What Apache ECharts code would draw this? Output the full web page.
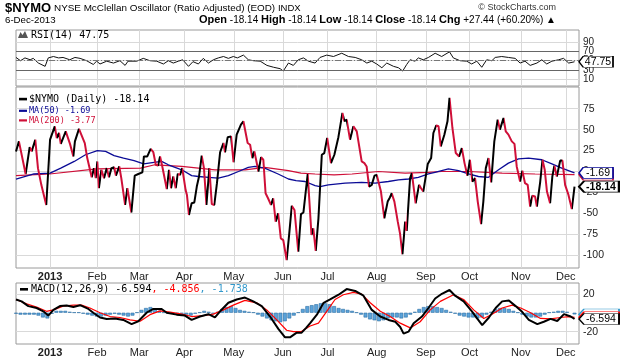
<!DOCTYPE html>
<html><head><meta charset="utf-8">
<script src="https://cdn.jsdelivr.net/npm/echarts@6.0.0/dist/echarts.min.js"></script>
<style>html,body{margin:0;padding:0;background:#fff}#c{width:620px;height:360px}</style>
</head><body><div id="c"></div>
<script>
// ---- tick labels ----
const monthTicks = [15.2, 36.2, 55, 75.1, 97.2, 119.1, 139, 161, 182.9, 202.4, 225.3, 245.4];
const monthLabels = ['2013','Feb','Mar','Apr','May','Jun','Jul','Aug','Sep','Oct','Nov','Dec'];
const mainTicks = [-100,-75,-50,-25,0,25,50,75];
const mainTicksA = [-100,-75,-50,0,25,50,75];
const mainTicksB = [-25];
const rsiTicks = [10,30,50,70,90];
const rsiTicksA = [10,50,90];
const rsiTicksB = [30,70];
const rsiLevels = [30,50,70];
const macdTicks = [-20,20];

// ---- series values [trading-day index, value] ----
const nymo = [[0,24],[1.3,36],[4.3,-3],[6.1,29],[7,24],[8.6,38],[9.8,4],[11.3,-16],[13.5,-40],[15.2,38],[15.9,38],[17.3,54],[18.2,40],[19.2,46],[20,33],[22.2,48],[24.1,33],[25.6,18],[26.3,36],[28.1,51],[30.7,34],[31.8,16],[33.8,-7],[34.8,4],[35.6,-8],[36.3,12],[37,-20],[38.1,2],[39.3,-8],[40.5,4],[41.5,-7],[42.6,4],[43.8,5],[44.6,-5],[46.1,6],[47,-8],[48.7,-40],[49.7,-20],[51.5,-49],[53,-5],[54.6,-3],[56.4,-1],[57.1,18],[58.6,18],[60.1,27],[61.3,23],[62.4,8],[63.4,7],[64.3,18],[65.3,6],[67.3,-21],[68.3,2],[69.2,-20],[70.2,-6],[71.3,-20],[72.2,-3],[73.2,-4],[74.2,4],[75.7,-22],[76.3,-28],[77.2,-52],[78.4,-38],[79.6,-37],[80.7,-18],[81.7,-6],[82.9,19],[83.9,4],[85,-40],[86.3,4],[87.4,-39],[88.5,-40],[89.7,-14],[91.1,23],[92.6,34],[93.3,23],[94.5,41],[96,42],[97.1,11],[98.5,44],[99.3,44],[100.4,56],[101.5,60],[102.3,59],[103.4,34],[104.5,32],[105.5,16],[106.4,24],[107.4,11],[108.2,0],[109.4,17],[110.4,14],[111.4,-26],[112.5,-32],[113.8,-40],[114.8,-32],[115.9,-60],[117,-50],[118.2,-80],[119.3,-82],[120.8,-106],[121.9,-76],[123.1,-41],[124.3,-46],[126,-96],[127.2,-51],[128.3,-49],[130.2,-3],[131.9,-76],[132.7,-68],[133.8,-95],[135,-56],[136.5,20],[137.6,22],[138.9,40],[140.6,10],[142.1,20],[143.9,41],[145.7,70],[146.6,60],[147.6,62],[149.1,38],[150.6,54],[152.1,48],[154.3,12],[155.5,10],[156.5,6],[157.6,-18],[158.8,-16],[160,-5],[161,-4],[161.8,-6],[162.9,-24],[164.4,-56],[165.9,-36],[166.9,-31],[167.7,-26],[168.9,-36],[170.4,-60],[171.4,-74],[172.5,-99],[173.7,-60],[174.4,-71],[175.9,-8],[176.7,-2],[178.4,-38],[179.9,-16],[180.8,-20],[181.8,-24],[183.8,9],[185.3,16],[186.3,46],[187.6,55],[188.6,54],[189.6,30],[191.2,44],[192.6,60],[193.5,88],[194.8,52],[196.3,22],[197.8,18],[199,28],[200.2,10],[201.5,-5],[202.6,14],[203.7,-12],[204.9,-8],[206.1,-36],[207.6,-63],[208.6,-36],[209.7,4],[210.9,16],[212.1,-13],[213.5,36],[215,62],[216,50],[217.6,64],[218.6,48],[219.8,44],[221.3,36],[222.5,33],[223.5,6],[225,-12],[226,1],[227.2,-14],[228.4,-16],[229.5,-42],[230.5,-29],[231.7,-30],[232.5,-42],[234,-12],[235,14],[236,2],[237,-24],[238.4,-38],[239.4,-6],[240.3,7],[241.4,-6],[242.9,13],[243.9,13],[245.1,-16],[246.6,-28],[248.1,-45],[249.3,-18.14]];
const ma50 = [[0,-9],[8,-3],[15.2,-2],[20,4],[26,12],[31,20],[36.3,25],[40,24],[43.8,19],[48,16],[52.7,13],[57,9],[61.6,11],[65,12],[68,8],[74,2],[78.4,-5],[81.4,-6],[86,-7],[90.3,-8],[94.8,-5],[99.3,0],[103.7,5],[106.7,6],[111,4],[117,-3],[121.6,-9],[125,-11],[129,-12],[133.5,-17],[135.7,-18],[139.4,-16],[146.9,-14],[154.3,-13],[160.3,-14],[166.2,-12],[170.7,-10],[175.2,-9],[179.6,-7],[184.1,-3],[187,-1],[193,3],[197.5,1],[202,-3],[206.4,-6],[210.9,-7],[215.4,2],[219.8,10],[224.3,15],[228.8,16],[234.7,14],[239.2,9],[243.6,4],[249.3,-1.69]];
const ma200 = [[0,-5],[15,-3],[36,3],[55.6,4],[62,8],[74,6],[81.4,4],[88.8,2],[102.3,2],[111,5],[121.6,1],[127.2,-2],[133.5,-3],[142,-4],[150,-3],[161.8,0],[173.7,-2],[184,-1],[190,0],[202,0],[217,-2],[231.7,-3],[249.3,-3.77]];
const rsi = [[0,57],[2,50],[4,56],[6.3,52],[7.7,55],[10,45],[13,38],[14.4,56],[16.7,59],[19,56],[21,57],[24,52],[26.3,57],[28.6,55],[31.5,50],[34.5,42],[36,49],[37.5,43],[40.5,49],[43.5,45],[46.4,50],[48.7,40],[50,49],[53.9,49],[56.8,55],[59.8,50],[62.8,49],[65.8,43],[68,50],[70.2,45],[72.5,49],[74.4,52],[77,38],[79,48],[81.4,43],[83.6,55],[85.9,45],[88.1,52],[90.3,56],[92.6,59],[94.8,55],[97,59],[98.8,56],[101.5,62],[103.7,52],[106,50],[109,49],[112,40],[115,36],[117.9,33],[119.3,28],[121.6,45],[123.8,40],[126,52],[128.3,56],[130.5,49],[133.5,45],[135.7,57],[138.7,62],[141.7,59],[145.4,66],[148.4,59],[151.4,57],[154.3,52],[156.6,45],[158.8,49],[161,43],[163.3,35],[165.5,45],[168.5,38],[170.7,35],[172.6,28],[174.4,42],[175.9,52],[178.1,49],[179.6,56],[181.8,52],[184.1,57],[187.1,66],[190,59],[193.5,69],[195.2,56],[198.2,50],[201.2,49],[203.4,43],[205.7,49],[207.9,36],[210.1,52],[212.4,50],[213.9,57],[216.8,59],[219.8,57],[222.8,55],[225,45],[227.2,49],[229.5,40],[232.5,45],[234.7,52],[236.9,43],[239.2,49],[242.2,52],[244.4,55],[246.7,45],[249.3,47.75]];
const macd = [[0,14],[2.5,12],[5.5,7],[9.2,5],[12.2,1.5],[14.4,-3],[16.7,3],[19.6,7],[22.6,7.6],[25.6,6],[28.6,8],[32.3,4],[34.5,0],[37.5,-5],[40.5,-6.5],[44.2,-6],[47.9,-7.6],[51.6,-12],[54.6,-9],[58.3,0],[61.3,4],[65,4],[67.3,0],[71.7,-2],[75.4,-3],[78.4,-7.6],[82.1,-4],[85.9,-1.5],[88.8,-5],[91.1,1.5],[94.8,10.5],[98.5,14],[102.2,16],[105.9,12],[109.7,7],[113.4,-4],[117.1,-17],[120.1,-26],[122.3,-26],[125.3,-21],[127.5,-21],[129.5,-16],[131.3,-11],[134.3,-2],[137.3,10.5],[140.2,14],[144,19],[147.6,25],[151.4,23],[155.1,18],[158.8,3],[162.6,-4],[166.3,-7.6],[169.3,-9.5],[171.5,-15],[173,-22],[175.2,-20],[177.5,-11],[181.2,-4],[184.1,5],[187.1,15],[190.1,20],[193.5,24],[196,18],[199.8,12],[203.5,1.5],[205.8,-6],[208.1,-13],[211.1,-5],[214.1,5],[217,12],[220,13],[223,7],[226,0.7],[228.9,-7.6],[232.7,-12],[235.6,-9.5],[238.6,-6.5],[241.6,-8.7],[244.6,-1.5],[247.6,-4],[249.3,-6.594]];
const signal = [[0,14],[4.7,9.5],[9.2,6],[13.6,1.5],[16.7,3],[21,7],[25.6,8],[29.3,8],[33,5],[37.5,0],[42,-4],[46.4,-5],[50.9,-7.6],[55.4,-9],[59.8,-2],[64.3,2],[68.8,0.7],[74,-1.5],[78.4,-4],[83.6,-3],[88.1,-1.5],[92.6,3],[97,8],[102.2,13],[107.4,10.5],[111.9,3],[116.4,-7.6],[120.8,-18.5],[123.8,-20],[127.5,-19.6],[131.3,-14],[135,-11],[138.7,1.5],[142.4,14],[146.1,19],[150.6,21.5],[154.3,19.6],[158.1,10.5],[162.6,1.5],[167,-4],[171.5,-11],[176,-16],[180.4,-9.5],[184.9,3],[189.4,12],[195.3,19],[199.8,14],[204.3,3],[208.8,-6],[212.5,-1.5],[217,5],[221.5,8],[225.3,5],[229.7,0],[234.1,-6],[238.6,-6.5],[243,-5],[246.7,-4],[249.3,-4.856]];
const hist = [[0,-1],[2,-2],[4,-2],[6,-2],[8,-2],[10,-3],[12,-5],[14,-6],[16,-1],[18,2],[20,2],[22,2],[24,1],[26,0.3],[28,0.3],[30,-1],[32,-2],[34,-3],[36,-4],[38,-4],[40,-3],[42,-2],[44,-1],[46,-2],[48,-3],[50,-4],[52,-3],[54,0.3],[56,3],[58,5],[60,6],[62,4],[64,2],[66,0.3],[68,-1],[70,-1],[72,-1],[74,-1],[76,-2],[78,-3],[80,-1],[82,0.3],[84,2],[86,1],[88,-1],[90,1],[92,4],[94,6],[96,7],[98,5],[100,3],[102,2],[104,1],[106,0.3],[108,-2],[110,-4],[112,-6],[114,-8],[116,-9],[118,-10],[120,-9],[122,-6],[124,-3],[126,0.3],[128,4],[130,7],[132,8],[134,9],[136,10],[138,10],[140,9],[142,7],[144,5],[146,4],[148,3],[150,2],[152,0.3],[154,-2],[156,-5],[158,-7],[160,-8],[162,-9],[164,-8],[166,-6],[168,-5],[170,-5],[172,-6],[174,-5],[176,-2],[178,1],[180,4],[182,6],[184,7],[186,7],[188,6],[190,5],[192,3],[194,1],[196,-1],[198,-3],[200,-4],[202,-5],[204,-5],[206,-6],[208,-5],[210,-2],[212,1],[214,4],[216,5],[218,5],[220,4],[222,2],[224,0.3],[226,-2],[228,-4],[230,-5],[232,-5],[234,-4],[236,-2],[238,0.3],[240,1],[242,2],[244,2],[246,1],[249.3,-1.738]];
const quoteChg = ['+27.44', '+60.20%'];

// ---- drawing ----
const xMax = 251.3;
const F = '"Liberation Sans", Arial, sans-serif';
const MONO = '"DejaVu Sans Mono", monospace';
const RED = '#cf0f38', NAVY = '#0b0b96', BLUE = '#3399cc';
const last = a => a[a.length - 1][1];
const fmt = v => String(v);

function tag(val, text, border, bold, showText) {
  const w = Math.round(text.length * 5.8 + 5);
  return {
    silent: true,
    symbol: 'path://M0,5L5,0L40,0L40,10L5,10Z',
    symbolSize: [w, 11], symbolKeepAspect: false, symbolOffset: [w / 2, 0],
    itemStyle: { color: '#fff', borderColor: border, borderWidth: bold ? 1.3 : 1 },
    label: { show: showText !== false, position: 'inside', offset: [2, 0], formatter: text, color: '#000',
      fontSize: 10.5, fontWeight: bold ? 'bold' : 'normal', fontFamily: F },
    data: [{ coord: [xMax, val] }]
  };
}

const pieces = [];
for (let i = 0; i < nymo.length - 1; i++) {
  const p = { gte: nymo[i][0], color: nymo[i + 1][1] >= nymo[i][1] ? '#000000' : RED };
  if (i === nymo.length - 2) p.lte = nymo[i + 1][0]; else p.lt = nymo[i + 1][0];
  pieces.push(p);
}

function monthFmt(v) {
  let k = 0, d = 1e9;
  monthTicks.forEach((t, i) => { if (Math.abs(t - v) < d) { d = Math.abs(t - v); k = i; } });
  return k === 0 ? '{b|' + monthLabels[0] + '}' : monthLabels[k];
}

const grids = [
  { left: 16, right: 41, top: 30, height: 56 },
  { left: 16, right: 41, top: 87, height: 181 },
  { left: 16, right: 41, top: 283, height: 61 }
].map(g => Object.assign(g, { show: true, borderColor: '#9a9a9a', borderWidth: 1, backgroundColor: '#fff' }));

const xAxes = [0, 1, 2].map(i => ({
  type: 'value', gridIndex: i, min: 0, max: xMax,
  axisLine: { show: false },
  axisTick: { show: false, customValues: monthTicks },
  axisLabel: { show: i > 0, customValues: monthTicks, formatter: monthFmt, margin: 3, hideOverlap: false,
    showMinLabel: true, showMaxLabel: true,
    fontSize: 11, color: '#222', fontFamily: F, rich: { b: { fontWeight: 'bold', fontSize: 11, fontFamily: F, color: '#222' } } },
  splitLine: { show: true, lineStyle: { color: '#d9d9d9', width: 1 } }
}));

function yAx(gi, min, max, gridTicks, labelTicks, fs, withLines) {
  return {
    type: 'value', gridIndex: gi, min, max, position: 'right',
    axisLine: { show: false },
    axisTick: { show: false, customValues: gridTicks },
    axisLabel: { customValues: labelTicks, margin: 4, fontSize: fs || 10.5, color: '#222', fontFamily: F,
      hideOverlap: false, showMinLabel: true, showMaxLabel: true },
    splitLine: { show: withLines !== false, lineStyle: { color: '#d9d9d9', width: 1 } }
  };
}

const series = [
  { type: 'line', name: 'RSI', xAxisIndex: 0, yAxisIndex: 0, data: rsi, showSymbol: false, z: 3,
    lineStyle: { color: '#111', width: 1 }, itemStyle: { color: '#111' },
    markLine: { silent: true, symbol: 'none', label: { show: false }, animation: false,
      data: rsiLevels.map(l => ({ yAxis: l, lineStyle: l === 50 ? { color: '#777', type: [6, 2, 1, 2], width: 1 } : { color: '#666', type: 'solid', width: 1 } })) },
    markPoint: tag(last(rsi), fmt(last(rsi)), '#000', false) },
  { type: 'line', name: 'MA200', xAxisIndex: 1, yAxisIndex: 1, data: ma200, showSymbol: false, z: 3,
    lineStyle: { color: RED, width: 1.2 }, itemStyle: { color: RED },
    markPoint: tag(last(ma200), fmt(last(ma200)), RED, false, false) },
  { type: 'line', name: 'MA50', xAxisIndex: 1, yAxisIndex: 1, data: ma50, showSymbol: false, z: 4,
    lineStyle: { color: NAVY, width: 1.3 }, itemStyle: { color: NAVY },
    markPoint: tag(last(ma50), fmt(last(ma50)), NAVY, false) },
  { type: 'line', name: 'NYMO', xAxisIndex: 1, yAxisIndex: 1, data: nymo, showSymbol: false, z: 5,
    lineStyle: { width: 2 },
    markPoint: tag(last(nymo), fmt(last(nymo)), '#000', true) },
  { type: 'bar', name: 'Hist', xAxisIndex: 2, yAxisIndex: 2, data: hist, barWidth: 3.8, z: 2,
    itemStyle: { color: '#5ba3da', borderColor: '#2c6fa5', borderWidth: 0.6 },
    markPoint: tag(last(hist), fmt(last(hist)), BLUE, false, false) },
  { type: 'line', name: 'Signal', xAxisIndex: 2, yAxisIndex: 2, data: signal, showSymbol: false, z: 3,
    lineStyle: { color: '#ff0000', width: 1.2 }, itemStyle: { color: '#ff0000' },
    markPoint: tag(last(signal), fmt(last(signal)), '#ff0000', false, false) },
  { type: 'line', name: 'MACD', xAxisIndex: 2, yAxisIndex: 2, data: macd, showSymbol: false, z: 4,
    lineStyle: { color: '#000', width: 2 }, itemStyle: { color: '#000' },
    markPoint: tag(last(macd), fmt(last(macd)), '#000', false) }
];

const txt = (x, y, text, font, fill, align, extra) => ({ type: 'text', x, y, z: 50,
  style: Object.assign({ text, font, fill, align: align || 'left', verticalAlign: 'middle' }, extra || {}) });
const dash = (x, y, w, h, c) => ({ type: 'rect', shape: { x, y, width: w, height: h }, style: { fill: c }, z: 50 });

const close = fmt(last(nymo));
const graphic = [
  txt(5, 8, '{b|$NYMO} {t|NYSE McClellan Oscillator (Ratio Adjusted) (EOD)} {s|INDX}', '10px ' + F, '#000', 'left',
    { rich: { b: { font: 'bold 13px ' + F, fill: '#000' }, t: { font: '9.9px ' + F, fill: '#000' }, s: { font: '9.5px ' + F, fill: '#000' } } }),
  txt(556, 8, '\u00a9 StockCharts.com', '9px ' + F, '#333', 'right'),
  txt(5, 20, '6-Dec-2013', '9.7px ' + F, '#000', 'left'),
  txt(556, 20, '{b|Open} ' + close + ' {b|High} ' + close + ' {b|Low} ' + close + ' {b|Close} ' + close + ' {b|Chg} ' + quoteChg[0] + ' (' + quoteChg[1] + ') \u25b2',
    '10px ' + F, '#000', 'right', { rich: { b: { font: 'bold 11px ' + F, fill: '#000' } } }),
  { type: 'polygon', shape: { points: [[18, 38], [20.5, 32], [22.5, 35], [25, 31], [28, 38]] }, style: { fill: '#555' }, z: 50 },
  txt(31, 35, 'RSI(14) ' + fmt(last(rsi)), '10px ' + MONO, '#000'),
  dash(19, 97.8, 8, 2.6, '#000'),
  txt(29, 99, '$NYMO (Daily) ' + close, '10px ' + MONO, '#000'),
  dash(19, 109.7, 8, 2.2, NAVY),
  txt(29, 110.8, 'MA(50) ' + fmt(last(ma50)), '8.5px ' + MONO, NAVY),
  dash(19, 119.3, 8, 2.2, RED),
  txt(29, 120.4, 'MA(200) ' + fmt(last(ma200)), '8.5px ' + MONO, RED),
  dash(20, 288, 8, 2.6, '#000'),
  txt(31, 289.3, 'MACD(12,26,9) ' + fmt(last(macd)) + '{r|, ' + fmt(last(signal)) + '}{c|, ' + fmt(last(hist)) + '}', '10px ' + MONO, '#000', 'left',
    { rich: { r: { font: '10px ' + MONO, fill: '#ff0000' }, c: { font: '10px ' + MONO, fill: BLUE } } })
];

const chart = echarts.init(document.getElementById('c'), null, { renderer: 'canvas' });
chart.setOption({
  animation: false,
  backgroundColor: '#fff',
  grid: grids,
  xAxis: xAxes,
  yAxis: [
    yAx(0, -4, 115.6, rsiTicks, rsiTicksA, 10),
    yAx(1, -115.4, 101, mainTicks, mainTicksA),
    yAx(2, -33, 31.4, macdTicks, macdTicks),
    yAx(0, -4, 115.6, rsiTicksB, rsiTicksB, 10, false),
    yAx(1, -115.4, 101, mainTicksB, mainTicksB, 10.5, false)
  ],
  visualMap: { type: 'piecewise', show: false, seriesIndex: 3, dimension: 0, pieces, outOfRange: { color: '#000' } },
  series,
  graphic
});
</script>
</body></html>
